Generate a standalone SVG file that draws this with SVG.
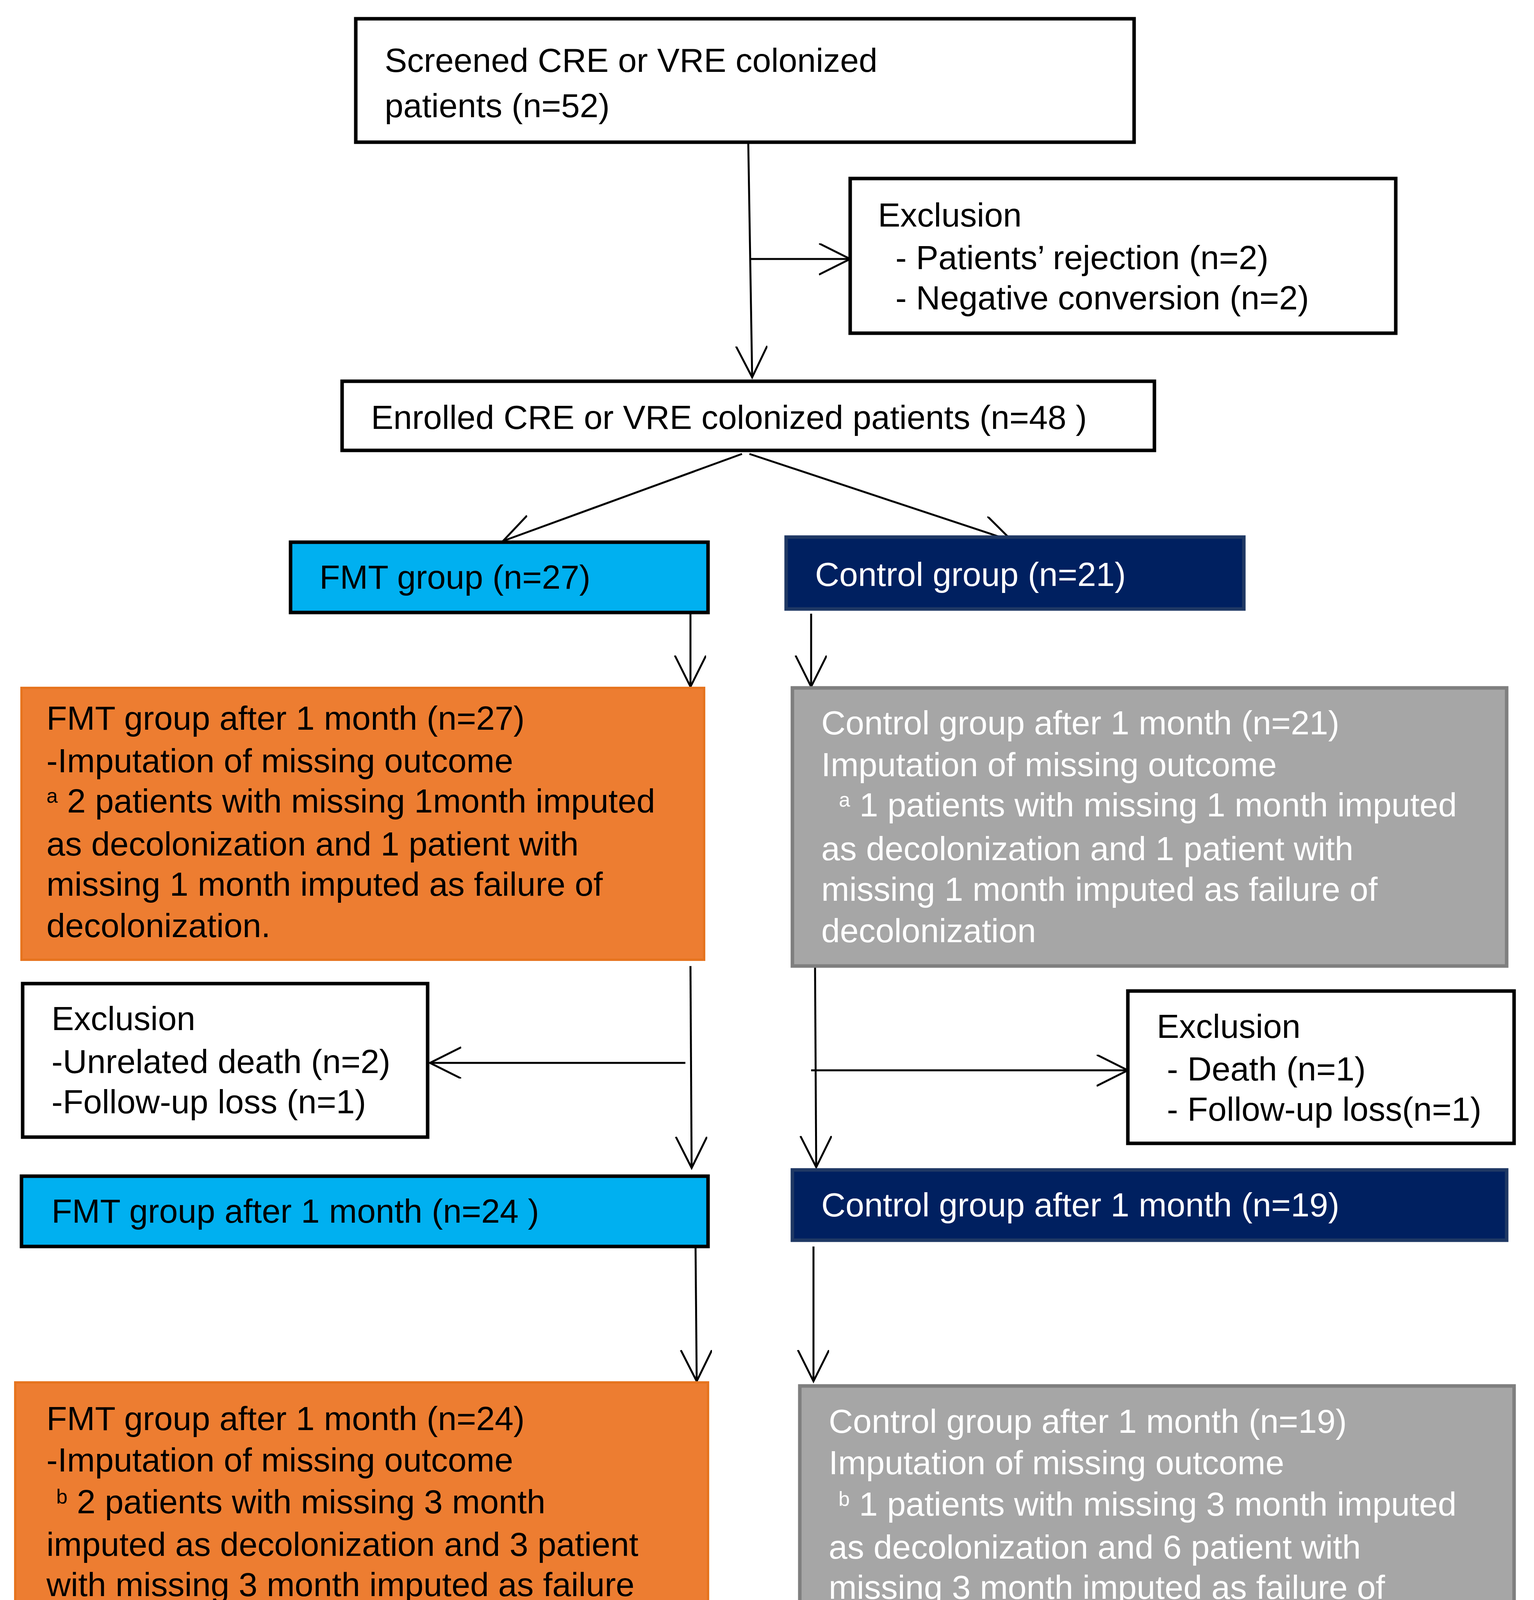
<svg xmlns="http://www.w3.org/2000/svg" width="3928" height="5088" viewBox="0 0 3928 5088">
<style>
text{font-family:"Liberation Sans",Arial,sans-serif;font-size:86px;fill:#000}
.w{fill:#fff}
.b{fill:#fff;stroke:#000;stroke-width:9}
.blue{fill:#00B0F0;stroke:#000;stroke-width:9}
.navy{fill:#002060;stroke:#1F3864;stroke-width:9}
.or{fill:#ED7D31;stroke:#E6741F;stroke-width:6}
.gr{fill:#A6A6A6;stroke:#7F7F7F;stroke-width:9}
.c line{stroke:#000;stroke-width:5;marker-end:url(#a)}
.s{font-size:52px}
</style>
<defs><marker id="a" markerWidth="90" markerHeight="90" refX="80" refY="40" orient="auto" markerUnits="userSpaceOnUse"><path d="M0,0 L80,40 L0,80" fill="none" stroke="#000" stroke-width="5"/></marker></defs>
<rect fill="#fff" width="3928" height="5088"/>
<g class="c">
<line x1="1916" y1="364" x2="1926" y2="966"/>
<line x1="1919" y1="663" x2="2177" y2="663"/>
<line x1="1900" y1="1162" x2="1288" y2="1385"/>
<line x1="1919" y1="1162" x2="2592" y2="1385"/>
<line x1="1768" y1="1571" x2="1768" y2="1758"/>
<line x1="2077" y1="1571" x2="2077" y2="1758"/>
<line x1="1768" y1="2473" x2="1771" y2="2990"/>
<line x1="1755" y1="2721" x2="1101" y2="2721"/>
<line x1="2087" y1="2473" x2="2090" y2="2988"/>
<line x1="2077" y1="2740" x2="2888" y2="2740"/>
<line x1="1781" y1="3191" x2="1784" y2="3536"/>
<line x1="2083" y1="3191" x2="2083" y2="3536"/>
<line x1="1819" y1="4257" x2="1819" y2="4840"/>
<line x1="1813" y1="4489" x2="1195" y2="4492"/>
<line x1="2074" y1="4257" x2="2093" y2="4846"/>
<line x1="2093" y1="4489" x2="2811" y2="4489"/>
</g>
<g id="screened"><rect class="b" x="911" y="48" width="1993" height="316"/><text x="985" y="184">Screened  CRE or VRE   colonized</text><text x="985" y="300">patients    (n=52)</text></g>
<g id="excl1"><rect class="b" x="2177" y="457" width="1397" height="396"/><text x="2248" y="580">Exclusion</text><text x="2293" y="689">- Patients’ rejection (n=2)</text><text x="2293" y="792">- Negative  conversion (n=2)</text></g>
<g id="enrolled"><rect class="b" x="876" y="976" width="2080" height="177"/><text x="950" y="1098">Enrolled CRE or VRE  colonized patients  (n=48 )</text></g>
<g id="fmt"><rect class="blue" x="744" y="1388" width="1069" height="180"/><text x="818" y="1507">FMT   group   (n=27)</text></g>
<g id="ctrl"><rect class="navy" x="2013" y="1375" width="1172" height="184"/><text class="w" x="2087" y="1500">Control group (n=21)</text></g>
<g id="fmt1"><rect class="or" x="55" y="1761" width="1748" height="696"/>
<text x="119" y="1868">FMT   group  after 1 month   (n=27)</text>
<text x="119" y="1977">-Imputation  of missing outcome</text>
<text x="119" y="2080"><tspan class="s" dy="-25">a</tspan><tspan dy="25"> 2 patients with missing 1month imputed</tspan></text>
<text x="119" y="2190">as decolonization  and 1 patient with</text>
<text x="119" y="2293">missing 1 month imputed as failure of</text>
<text x="119" y="2399">decolonization.</text></g>
<g id="ctrl1"><rect class="gr" x="2029" y="1761" width="1829" height="712"/>
<text class="w" x="2103" y="1880">Control group after 1 month (n=21)</text>
<text class="w" x="2103" y="1987">Imputation  of missing outcome</text>
<text class="w" x="2103" y="2090"><tspan class="s w" dx="45" dy="-25">a</tspan><tspan dy="25"> 1 patients with missing 1 month imputed</tspan></text>
<text class="w" x="2103" y="2202">as decolonization  and 1 patient with</text>
<text class="w" x="2103" y="2306">missing 1 month  imputed as failure of</text>
<text class="w" x="2103" y="2412">decolonization</text></g>
<g id="exfmt1"><rect class="b" x="58" y="2518" width="1037" height="393"/><text x="132" y="2637">Exclusion</text><text x="132" y="2747">-Unrelated death (n=2)</text><text x="132" y="2850">-Follow-up loss     (n=1)</text></g>
<g id="exctrl1"><rect class="b" x="2888" y="2537" width="989" height="390"/><text x="2962" y="2657">Exclusion</text><text x="2988" y="2766">- Death   (n=1)</text><text x="2988" y="2869">- Follow-up loss(n=1)</text></g>
<g id="fmt24"><rect class="blue" x="55" y="3011" width="1758" height="180"/><text x="132" y="3130">FMT   group  after 1 month   (n=24 )</text></g>
<g id="ctrl19"><rect class="navy" x="2029" y="2995" width="1829" height="180"/><text class="w" x="2103" y="3114">Control group after  1 month (n=19)</text></g>
<g id="fmt2"><rect class="or" x="39" y="3539" width="1774" height="718"/>
<text x="119" y="3661">FMT   group  after 1 month   (n=24)</text>
<text x="119" y="3767">-Imputation  of missing outcome</text>
<text x="119" y="3874"><tspan class="s" dx="25" dy="-25">b</tspan><tspan dy="25"> 2 patients with missing 3 month</tspan></text>
<text x="119" y="3983">imputed as decolonization  and 3 patient</text>
<text x="119" y="4086">with missing 3 month imputed as failure</text>
<text x="119" y="4192">of decolonization.</text></g>
<g id="ctrl2"><rect class="gr" x="2048" y="3548" width="1829" height="708"/>
<text class="w" x="2122" y="3668">Control group after  1 month (n=19)</text>
<text class="w" x="2122" y="3774">Imputation  of missing outcome</text>
<text class="w" x="2122" y="3880"><tspan class="s w" dx="25" dy="-25">b</tspan><tspan dy="25"> 1 patients with missing 3 month imputed</tspan></text>
<text class="w" x="2122" y="3990">as decolonization  and 6 patient with</text>
<text class="w" x="2122" y="4093">missing 3 month imputed as failure of</text>
<text class="w" x="2122" y="4196">decolonization</text></g>
<g id="exfmt2"><rect class="b" x="58" y="4299" width="1130" height="390"/><text x="132" y="4418">Exclusion</text><text x="187" y="4527">- Follow-up loss (n=3)</text><text x="187" y="4630">- Unrelated death (n=2)</text></g>
<g id="exctrl2"><rect class="b" x="2811" y="4292" width="1047" height="396"/><text x="2885" y="4411">Exclusion</text><text x="2885" y="4521">- Death (n=4)</text><text x="2885" y="4624">- Follow-up loss (n=3)</text></g>
<g id="fmt3"><rect class="blue" x="39" y="4840" width="1774" height="177"/><text x="119" y="4959">FMT   group  after 3 month   (n=19)</text></g>
<g id="ctrl3"><rect class="navy" x="2041" y="4843" width="1836" height="180"/><text class="w" x="2116" y="4965">Control group after 3 month (n=12)</text></g>
</svg>
